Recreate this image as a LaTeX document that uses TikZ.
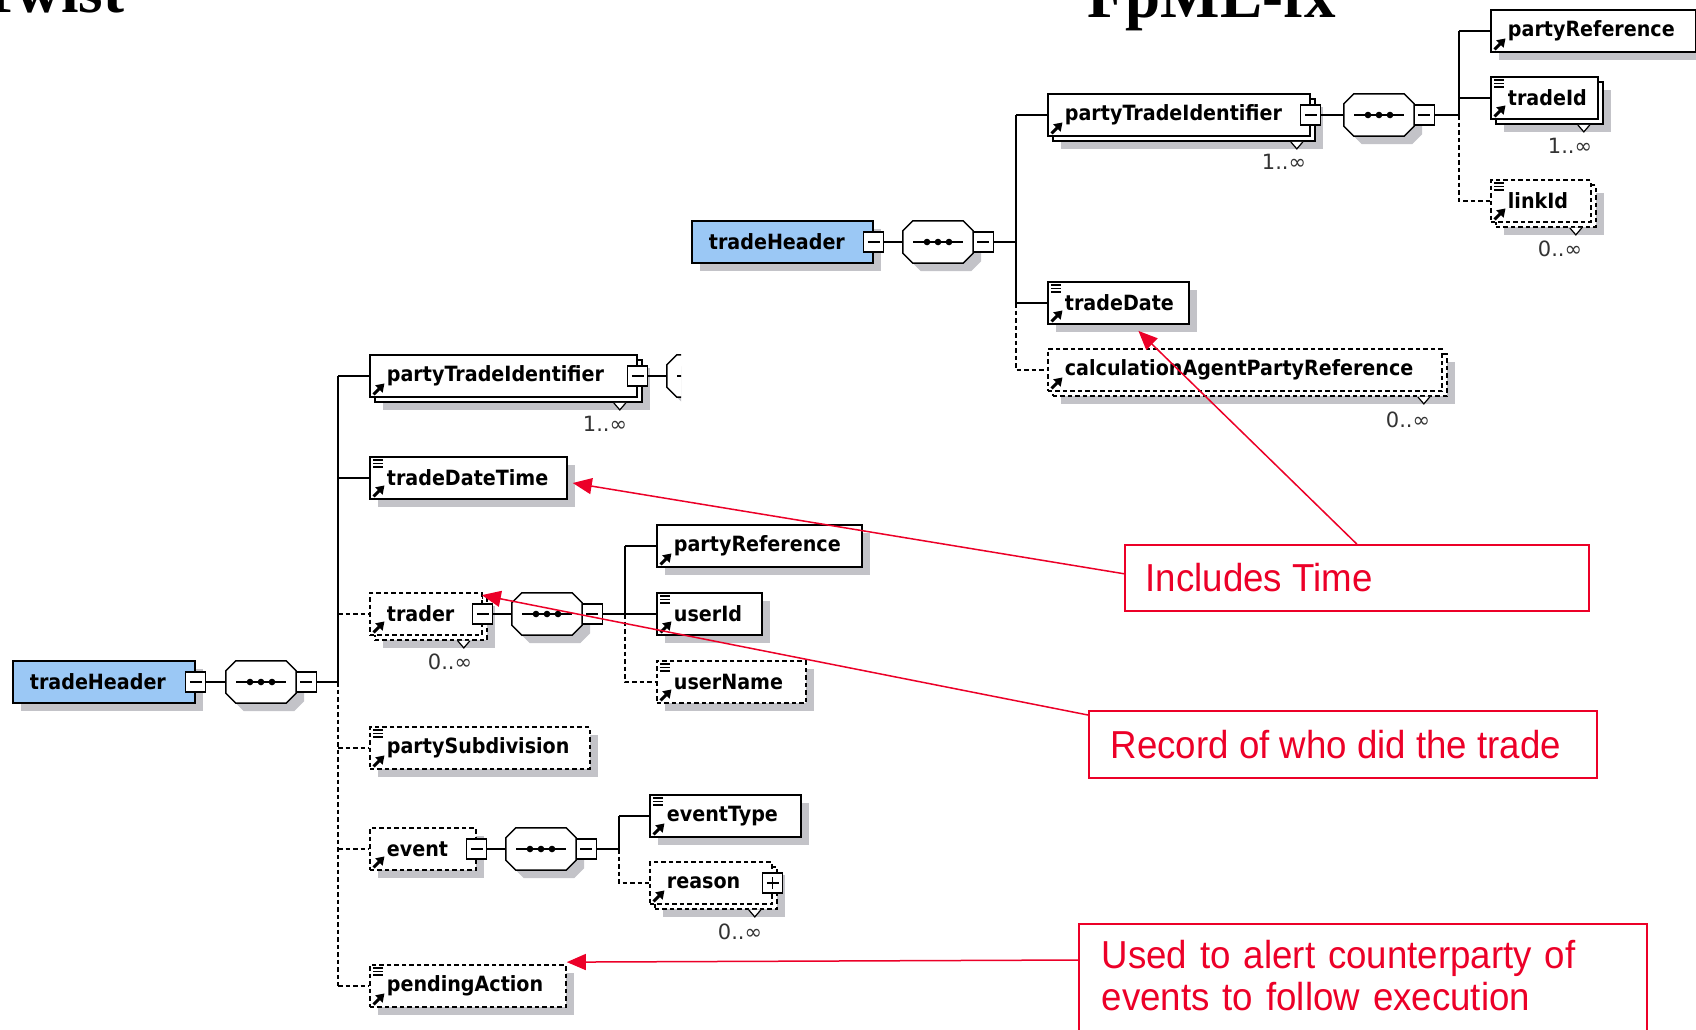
\documentclass[tikz,border=0pt]{standalone}
\usepackage{fontspec}
\usetikzlibrary{shadows,arrows.meta}
\newfontfamily\boxfont[FakeStretch=0.91]{DejaVu Sans}
\newfontfamily\cardfont{DejaVu Sans}
\newfontfamily\redfont[FakeStretch=0.94]{Liberation Sans}
\newfontfamily\titlefont{Liberation Serif}
\definecolor{shadowgray}{RGB}{195,195,200}
\definecolor{thblue}{RGB}{155,200,245}
\definecolor{annred}{RGB}{236,0,40}
\newcommand\etx[2]{\hbox to #1pt{\hskip17pt\relax #2\hfil}}
\newcommand\rtx[3]{\hbox to #1pt{\hskip#2pt\relax #3\hfil}}
\newcommand\octo[1]{%
 \fill[shadowgray] ([shift={(18,8)}]#1.north west) -- ([shift={(-2,8)}]#1.north east) -- ([shift={(8,18)}]#1.north east) -- ([shift={(8,-2)}]#1.south east) -- ([shift={(-2,8)}]#1.south east) -- ([shift={(18,8)}]#1.south west) -- ([shift={(8,-2)}]#1.south west) -- ([shift={(8,18)}]#1.north west) -- cycle;
 \filldraw[fill=white,line width=1.5pt] ([shift={(10,0)}]#1.north west) -- ([shift={(-10,0)}]#1.north east) -- ([shift={(0,10)}]#1.north east) -- ([shift={(0,-10)}]#1.south east) -- ([shift={(-10,0)}]#1.south east) -- ([shift={(10,0)}]#1.south west) -- ([shift={(0,-10)}]#1.south west) -- ([shift={(0,10)}]#1.north west) -- cycle;
 \draw[line width=1.5pt] ([shift={(-25,0)}]#1.center) -- ([shift={(25,0)}]#1.center);
 \foreach \d in {-11,0,11}{\fill ([shift={(\d,0)}]#1.center) circle (3.3);}}
\newcommand\docmark[1]{\draw[line width=1.3pt] ([shift={(4,4)}]#1.north west) -- ++(10,0) ([shift={(4,7.5)}]#1.north west) -- ++(10,0) ([shift={(4,11)}]#1.north west) -- ++(10,0);}
\newcommand\refmark[1]{\draw[line width=3pt,-{Triangle[length=8pt,width=10pt]}] ([shift={(4.5,-3.5)}]#1.south west) -- ++(11,-11);}
\newcommand\notch[2]{\filldraw[fill=white,line width=1.2pt] ([shift={(#2-6,5)}]#1.south east) -- ++(6,7) -- ++(6,-7);}
\tikzset{
  elem/.style={rectangle, draw=black, line width=1.8pt, fill=white, inner sep=0pt, minimum height=42pt, anchor=west, font=\boxfont\bfseries\fontsize{21}{24}\selectfont},
  opt/.style={dash pattern=on 4.5pt off 3pt},
  shad/.style={drop shadow={shadow xshift=8pt, shadow yshift=-8pt, fill=shadowgray, opacity=1, draw=none}},
  multi/.style={drop shadow={shadow xshift=13pt, shadow yshift=-13pt, fill=shadowgray, opacity=1, draw=none}, copy shadow={shadow xshift=5pt, shadow yshift=-5pt}},
  seq/.style={rectangle, minimum width=70pt, minimum height=42pt, inner sep=0pt},
  mbox/.style={rectangle, draw=black, fill=white, line width=1.3pt, minimum width=20pt, minimum height=20pt, inner sep=0pt, path picture={\draw[line width=1.3pt] ([xshift=4pt]path picture bounding box.west) -- ([xshift=-4pt]path picture bounding box.east);}},
  pbox/.style={rectangle, draw=black, fill=white, line width=1.3pt, minimum width=20pt, minimum height=20pt, inner sep=0pt, path picture={\draw[line width=1.3pt] ([xshift=4pt]path picture bounding box.west) -- ([xshift=-4pt]path picture bounding box.east) ([yshift=4pt]path picture bounding box.south) -- ([yshift=-4pt]path picture bounding box.north);}},
  conn/.style={line width=1.5pt},
  card/.style={font=\cardfont\fontsize{21}{23}\selectfont, inner sep=0pt, text=black!80},
  redbox/.style={draw=annred, line width=1.5pt, text=annred, font=\redfont\fontsize{39}{42}\selectfont, align=left, anchor=north west, inner ysep=0pt},
  redarr/.style={draw=annred, line width=1.5pt, -{Triangle[length=19pt,width=16pt]}},
  ttl/.style={font=\titlefont\bfseries\fontsize{63}{63}\selectfont, anchor=base west, inner sep=0pt}
}
\begin{document}
\begin{tikzpicture}[x=1pt,y=-1pt]
\useasboundingbox (0,0) rectangle (1696,1029);
\fill[white] (0,0) rectangle (1696,1029);

% titles
\node[ttl] (ttl1) at (-22,12) {Twist};
\node[ttl] (ttl2) at (1087,17) {FpML-fx};

% ================= upper tree (FpML-fx) =================
\node[elem, fill=thblue, shad] (thU) at (691,242) {\etx{181}{tradeHeader}};
\node[mbox] (thUm) at (thU.east) {};
\node[seq] (seqU) at (938,242) {};
\octo{seqU}
\node[mbox] (seqUm) at ([shift={(10,0)}]seqU.east) {};
\coordinate (trU) at (1016,242);

\node[elem, multi] (ptiU) at (1047,115) {\etx{262}{partyTradeIdentifier}};
\node[mbox] (ptiUm) at (ptiU.east) {};
\notch{ptiU}{-14}
\node[seq] (seqP) at (1379,115) {};
\octo{seqP}
\node[mbox] (seqPm) at ([shift={(10,0)}]seqP.east) {};
\coordinate (trP) at (1459,115);

\node[elem, shad] (prefU) at (1490,31) {\etx{205}{partyReference}};
\node[elem, multi] (tid) at (1490,98) {\etx{107}{tradeId}};
\notch{tid}{-15}
\node[elem, opt, multi] (lid) at (1490,201) {\etx{100}{linkId}};
\notch{lid}{-16}
\node[elem, shad] (tdate) at (1047,303) {\etx{141}{tradeDate}};
\node[elem, opt, multi] (calc) at (1047,370) {\etx{394}{calculationAgentPartyReference}};
\notch{calc}{-19}

\node[card] (cptiU) at (1284,162) {1..∞};
\node[card] (ctid) at (1570,146) {1..∞};
\node[card] (clid) at (1560,249) {0..∞};
\node[card] (ccalc) at (1408,420) {0..∞};

\draw[conn] (thUm.east) -- (seqU.west);
\draw[conn] (seqUm.east) -- (trU);
\draw[conn] (ptiU.west -| trU) -- (tdate.west -| trU);
\draw[conn] (ptiU.west -| trU) -- (ptiU.west);
\draw[conn] (tdate.west -| trU) -- (tdate.west);
\draw[conn, opt] (tdate.west -| trU) -- (calc.west -| trU) -- (calc.west);
\draw[conn] (ptiUm.east) -- (seqP.west);
\draw[conn] (seqPm.east) -- (trP);
\draw[conn] (prefU.west -| trP) -- (trP);
\draw[conn] (prefU.west -| trP) -- (prefU.west);
\draw[conn] (tid.west -| trP) -- (tid.west);
\draw[conn, opt] (trP) -- (lid.west -| trP) -- (lid.west);

% ================= lower tree (Twist) =================
\node[elem, fill=thblue, shad] (thL) at (12,682) {\etx{182}{tradeHeader}};
\node[mbox] (thLm) at (thL.east) {};
\node[seq] (seqL) at (261,682) {};
\octo{seqL}
\node[mbox] (seqLm) at ([shift={(10,0)}]seqL.east) {};
\coordinate (trL) at (338,682);

\node[elem, multi] (ptiL) at (369,376) {\etx{267}{partyTradeIdentifier}};
\node[mbox] (ptiLm) at (ptiL.east) {};
\notch{ptiL}{-18}
\begin{scope}
\clip (0,330) rectangle (681,430);
\node[seq] (seqX) at (702,376) {};
\octo{seqX}
\draw[conn] (ptiLm.east) -- (seqX.west);
\end{scope}

\node[elem, shad] (ttime) at (369,478) {\etx{197}{tradeDateTime}};
\node[elem, opt, multi] (trader) at (369,614) {\etx{112}{trader}};
\notch{trader}{-19}
\node[mbox] (traderm) at (trader.east) {};
\node[seq] (seqT) at (547,614) {};
\octo{seqT}
\node[mbox] (seqTm) at ([shift={(10,0)}]seqT.east) {};
\coordinate (trT) at (625,614);
\node[elem, shad] (prefL) at (656,546) {\etx{205}{partyReference}};
\node[elem, shad] (uid) at (656,614) {\etx{105}{userId}};
\node[elem, opt, shad] (uname) at (656,682) {\etx{149}{userName}};

\node[elem, opt, shad] (psub) at (369,748) {\etx{220}{partySubdivision}};

\node[elem, opt, shad] (event) at (369,849) {\etx{106}{event}};
\node[mbox] (eventm) at (event.east) {};
\node[seq] (seqE) at (541,849) {};
\octo{seqE}
\node[mbox] (seqEm) at ([shift={(10,0)}]seqE.east) {};
\coordinate (trE) at (619,849);
\node[elem, shad] (etype) at (649,816) {\etx{151}{eventType}};
\node[elem, opt, multi] (reason) at (649,883) {\etx{122}{reason}};
\notch{reason}{-18}
\node[pbox] (reasonp) at (reason.east) {};

\node[elem, opt, shad] (pend) at (369,986) {\etx{196}{pendingAction}};

\node[card] (cptiL) at (605,424) {1..∞};
\node[card] (ctrader) at (450,662) {0..∞};
\node[card] (creason) at (740,932) {0..∞};

\draw[conn] (thLm.east) -- (seqL.west);
\draw[conn] (seqLm.east) -- (trL);
\draw[conn] (ptiL.west -| trL) -- (trL);
\draw[conn, opt] (trL) -- (pend.west -| trL);
\draw[conn] (ptiL.west -| trL) -- (ptiL.west);
\draw[conn] (ttime.west -| trL) -- (ttime.west);
\draw[conn, opt] (trader.west -| trL) -- (trader.west);
\draw[conn, opt] (psub.west -| trL) -- (psub.west);
\draw[conn, opt] (event.west -| trL) -- (event.west);
\draw[conn, opt] (pend.west -| trL) -- (pend.west);

\draw[conn] (traderm.east) -- (seqT.west);
\draw[conn] (seqTm.east) -- (trT);
\draw[conn] (prefL.west -| trT) -- (trT);
\draw[conn] (prefL.west -| trT) -- (prefL.west);
\draw[conn] (trT) -- (uid.west);
\draw[conn, opt] (trT) -- (uname.west -| trT) -- (uname.west);

\draw[conn] (eventm.east) -- (seqE.west);
\draw[conn] (seqEm.east) -- (trE);
\draw[conn] (etype.west -| trE) -- (trE);
\draw[conn] (etype.west -| trE) -- (etype.west);
\draw[conn, opt] (trE) -- (reason.west -| trE) -- (reason.west);

% icons
\foreach \n in {prefU,ptiU,tid,lid,tdate,calc,ptiL,ttime,trader,prefL,uid,uname,psub,event,etype,reason,pend}{\refmark{\n}}
\foreach \n in {tid,lid,tdate,ttime,uid,uname,psub,etype,pend}{\docmark{\n}}

% ================= annotations =================
\node[redbox, inner xsep=0pt, minimum width=464pt, minimum height=66pt] (inc) at (1124,544) {\rtx{464}{21}{Includes Time}};
\node[redbox, inner xsep=0pt, minimum width=508pt, minimum height=67pt] (rec) at (1088,710) {\rtx{508}{22}{Record of who did the trade}};
\node[redbox, inner xsep=23pt, text width=522pt, inner ysep=16pt] (used) at (1078,923) {Used to alert counterparty of\\events to follow execution\rule[-60pt]{0pt}{60pt}};

\draw[redarr] ([shift={(0,-4)}]inc.west) -- ([shift={(5,5)}]ttime.east);
\draw[redarr] (inc.north) -- ([shift={(20,6)}]tdate.south);
\draw[redarr] ([shift={(0,5)}]rec.north west) -- ([shift={(-1,3)}]trader.north east);
\draw[redarr] ([shift={(0,37)}]used.north west) -- ([shift={(0,-2)}]pend.north east);
\end{tikzpicture}
\end{document}
